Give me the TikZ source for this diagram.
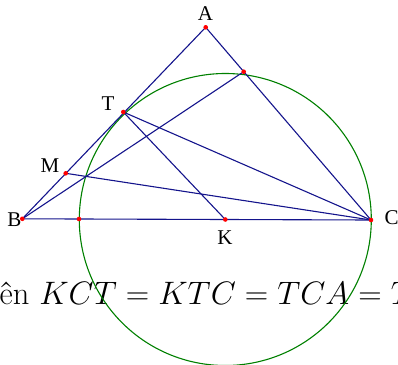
\RequirePackage{fix-cm}
\documentclass[tikz,border=0pt]{standalone}
\usepackage{amsmath}
\usepackage{fontspec}
\usepackage{tikz}
\newfontfamily\lblfont{Liberation Serif}
\definecolor{segblue}{RGB}{20,20,140}
\definecolor{circgreen}{RGB}{0,128,0}

\begin{document}
\begin{tikzpicture}[x=1pt,y=-1pt]
  \tikzstyle{seg}=[segblue,line width=1.1pt]
  \tikzstyle{circ}=[circgreen,line width=1.1pt]
  \tikzstyle{lbl}=[font=\fontsize{21}{25}\lblfont,inner sep=0pt]
  \useasboundingbox (0,0) rectangle (398,364);
  \clip (0,0) rectangle (398,364);

  \coordinate (A) at (205.7,27.3);
  \coordinate (B) at (22.3,218.8);
  \coordinate (C) at (371,220);
  \coordinate (T) at (123.3,112);
  \coordinate (M) at (65.7,173.3);
  \coordinate (K) at (225.3,219.5);
  \coordinate (P) at (243.7,71.7);
  \coordinate (Q) at (79,219);

  % bottom line of text, cut by the frame
  \node[anchor=base west,inner sep=0pt,font=\fontsize{32.5}{38}\selectfont] (eq) at (-0.5,304)
    {ên $KCT=KTC=TCA=T$};

  \draw[circ] (K) circle (146);

  \draw[seg] (A) -- (B);
  \draw[seg] (A) -- (C);
  \draw[seg] (B) -- (C);
  \draw[seg] (B) -- (P);
  \draw[seg] (T) -- (C);
  \draw[seg] (T) -- (K);
  \draw[seg] (M) -- (C);

  \foreach \p in {A,B,C,T,M,K,P,Q}
    \fill[red] (\p) circle (2.3);

  \node[lbl] (lA) at (205.5,14) {A};
  \node[lbl] (lT) at (108,104) {T};
  \node[lbl] (lM) at (50,166) {M};
  \node[lbl] (lB) at (14.5,219.5) {B};
  \node[lbl] (lC) at (391.5,218) {C};
  \node[lbl] (lK) at (225,237.5) {K};
\end{tikzpicture}
\end{document}
